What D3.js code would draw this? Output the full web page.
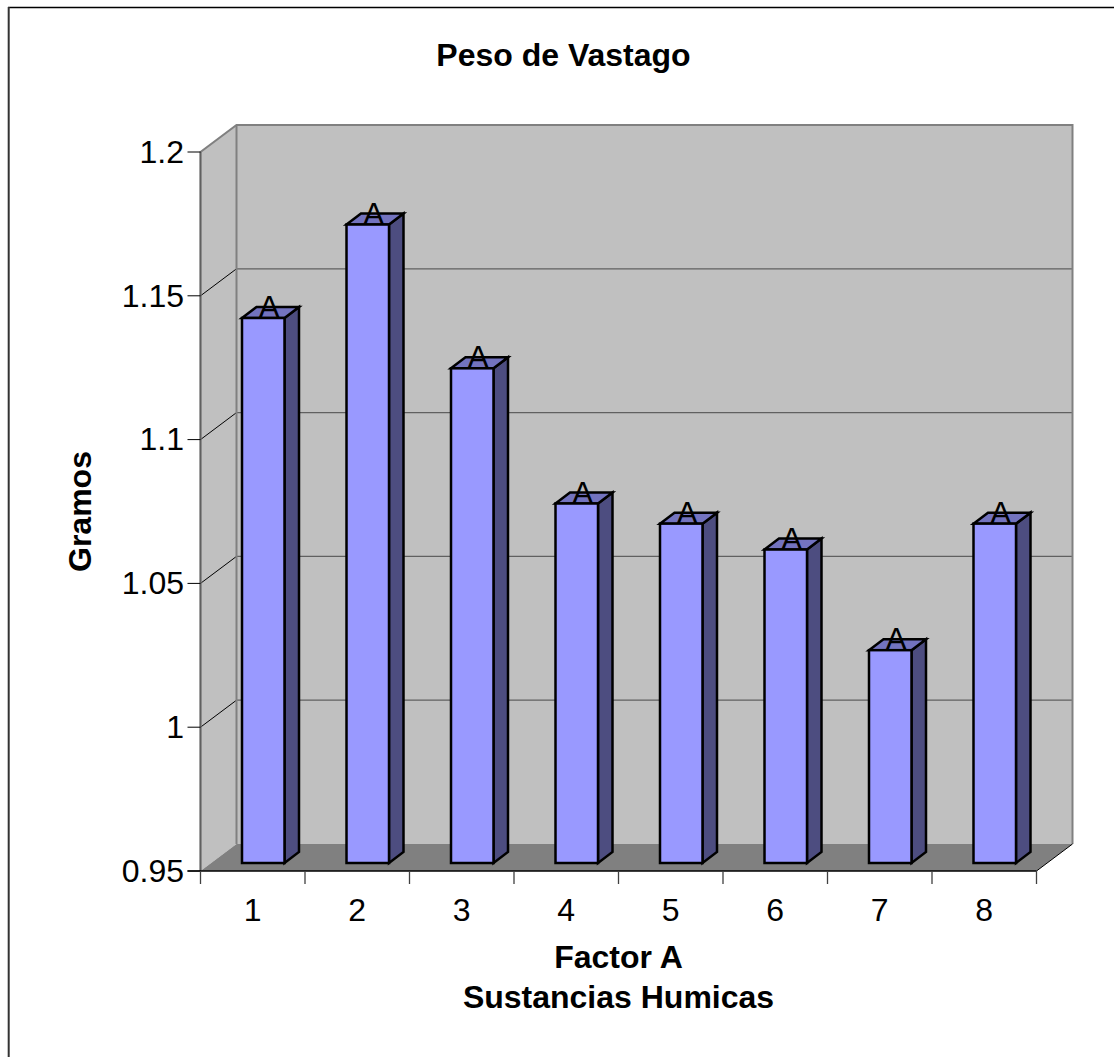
<!DOCTYPE html>
<html><head><meta charset="utf-8">
<script src="https://cdn.jsdelivr.net/npm/d3@7"></script>
<style>html,body{margin:0;padding:0;background:#fff}svg{display:block}text{font-family:"Liberation Sans",Arial,sans-serif;fill:#000}</style>
</head><body><svg id="c" width="1114" height="1057"></svg>
<script>
const categories=["1","2","3","4","5","6","7","8"];
const values=[1.1395,1.172,1.122,1.075,1.068,1.059,1.024,1.068];
const labels=["A","A","A","A","A","A","A","A"];
const yTicks=[0.95,1,1.05,1.1,1.15,1.2];
const yTickLabels=["0.95","1","1.05","1.1","1.15","1.2"];
const title="Peso de Vastago", xTitle=["Factor A","Sustancias Humicas"], yTitle="Gramos";

const svg=d3.select("#c");
const L=200.5,R=1036.5,T=152,B=871,DX=36,DY=-27;
const x=d3.scaleBand().domain(categories).range([L,R]);
const y=d3.scaleLinear().domain([0.95,1.2]).range([B,T]);
const wall="#c0c0c0",edge="#808080";
// outer frame: top and left edges only
svg.append("line").attr("x1",8).attr("x2",1114).attr("y1",7.5).attr("y2",7.5).attr("stroke","#000").attr("stroke-width",1.6);
svg.append("line").attr("x1",8.7).attr("x2",8.7).attr("y1",7).attr("y2",1057).attr("stroke","#333").attr("stroke-width",2);
// side wall, back wall, floor
svg.append("polygon").attr("points",[[L,T],[L+DX,T+DY],[L+DX,B+DY],[L,B]].join(" ")).attr("fill",wall);
svg.append("rect").attr("x",L+DX).attr("y",T+DY).attr("width",R-L).attr("height",B-T).attr("fill",wall);
svg.append("polygon").attr("points",[[L,B],[L+DX,B+DY],[R+DX,B+DY],[R,B]].join(" ")).attr("fill",edge);
// gridlines
yTicks.slice(1,-1).forEach(t=>{
  svg.append("path").attr("d",`M${L},${y(t)}L${L+DX},${y(t)+DY}`).attr("stroke","#000").attr("fill","none");
  svg.append("line").attr("x1",L+DX).attr("x2",R+DX).attr("y1",y(t)+DY).attr("y2",y(t)+DY).attr("stroke","#606060").attr("stroke-width",1.2);
});
// wall borders
svg.append("path").attr("d",`M${L},${B}L${L},${T}L${L+DX},${T+DY}L${R+DX},${T+DY}L${R+DX},${B+DY}`).attr("fill","none").attr("stroke",edge).attr("stroke-width",2);
svg.append("path").attr("d",`M${L+DX},${T+DY}L${L+DX},${B+DY}`).attr("fill","none").attr("stroke",edge).attr("stroke-width",2);
svg.append("path").attr("d",`M${R},${B}L${R+DX},${B+DY}`).attr("fill","none").attr("stroke","#000").attr("stroke-width",1);
svg.append("line").attr("x1",L).attr("x2",L).attr("y1",T).attr("y2",B).attr("stroke","#606060").attr("stroke-width",1.6);
// axes
svg.append("g").attr("transform",`translate(${L},0)`).call(d3.axisLeft(y).tickValues(yTicks).tickSize(0).tickPadding(16.5).tickFormat((d,i)=>yTickLabels[i]))
  .call(g=>{g.select(".domain").remove();g.selectAll("text").attr("font-size",32).style("font-family",'"Liberation Sans"')});
svg.selectAll(".yt").data(yTicks).join("line").attr("x1",L-13).attr("x2",L).attr("y1",d=>y(d)).attr("y2",d=>y(d)).attr("stroke","#000");
svg.append("line").attr("x1",L-13).attr("x2",R).attr("y1",B).attr("y2",B).attr("stroke","#000").attr("stroke-width",1.5);
svg.selectAll(".xt").data(d3.range(categories.length+1)).join("line").attr("x1",d=>L+d*x.bandwidth()).attr("x2",d=>L+d*x.bandwidth()).attr("y1",B).attr("y2",B+13).attr("stroke","#404040").attr("stroke-width",1.3);
svg.selectAll(".xl").data(categories).join("text").attr("x",d=>x(d)+x.bandwidth()/2).attr("y",921).attr("text-anchor","middle").attr("font-size",32).text(d=>d);
// bars
const bw=42.5,ox=10.5,oy=-8,dx=14.5,dy=-11;
const g=svg.selectAll(".bar").data(categories).join("g").attr("stroke","#000").attr("stroke-width",2.5).attr("stroke-linejoin","miter");
g.each(function(c,i){
  const s=d3.select(this),cx=x(c)+x.bandwidth()/2+ox,l=cx-bw/2,r=cx+bw/2,t=y(values[i])+oy,b=y(0.95)+oy;
  s.append("polygon").attr("points",[[r,t],[r+dx,t+dy],[r+dx,b+dy],[r,b]].join(" ")).attr("fill","#4d4d80");
  s.append("polygon").attr("points",[[l,t],[l+dx,t+dy],[r+dx,t+dy],[r,t]].join(" ")).attr("fill","#7373bf");
  s.append("rect").attr("x",l).attr("y",t).attr("width",bw).attr("height",b-t).attr("fill","#9999ff");
});
svg.selectAll(".lab").data(categories).join("text").attr("x",d=>x(d)+x.bandwidth()/2+ox+6).attr("y",(d,i)=>y(values[i])+oy).attr("text-anchor","middle").attr("font-size",32).text((d,i)=>labels[i]);
// titles
svg.append("text").attr("x",563.5).attr("y",66).attr("text-anchor","middle").attr("font-size",32).attr("font-weight","bold").text(title);
xTitle.forEach((t,i)=>svg.append("text").attr("x",618.5).attr("y",968+i*40).attr("text-anchor","middle").attr("font-size",32).attr("font-weight","bold").text(t));
svg.append("text").attr("transform","translate(91,511.5) rotate(-90)").attr("text-anchor","middle").attr("font-size",32).attr("font-weight","bold").text(yTitle);
</script></body></html>
